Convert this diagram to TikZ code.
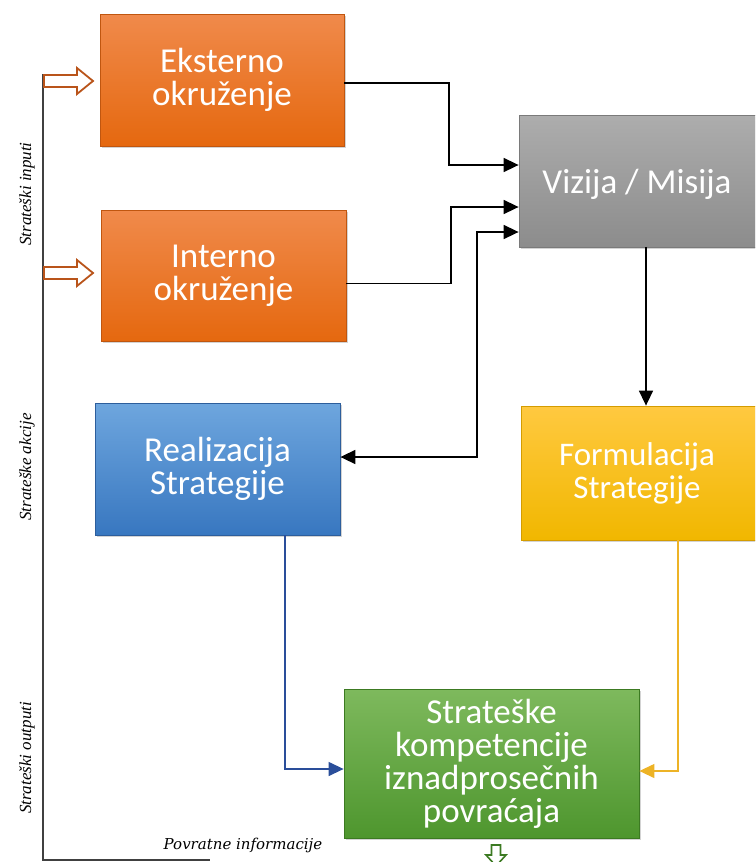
\documentclass[tikz,border=0pt]{standalone}
\usepackage{fontspec}
\setmainfont{Carlito}
\newfontfamily\sidefont{Liberation Serif}
\newfontfamily\fbfont{DejaVu Serif}
\usetikzlibrary{arrows.meta,shadows}

\definecolor{orTop}{HTML}{F08A4B}
\definecolor{orBot}{HTML}{E5680F}
\definecolor{orLine}{HTML}{C0560F}
\definecolor{gyTop}{HTML}{ADADAD}
\definecolor{gyBot}{HTML}{8C8C8C}
\definecolor{gyLine}{HTML}{7A7A7A}
\definecolor{blTop}{HTML}{6EA6DE}
\definecolor{blBot}{HTML}{3877C0}
\definecolor{blLine}{HTML}{2D5E9C}
\definecolor{yeTop}{HTML}{FFC940}
\definecolor{yeBot}{HTML}{F1B700}
\definecolor{yeLine}{HTML}{D49C00}
\definecolor{grTop}{HTML}{7EB95D}
\definecolor{grBot}{HTML}{4E962E}
\definecolor{grLine}{HTML}{3C7A22}
\definecolor{inArrow}{HTML}{B9541A}
\definecolor{bluConn}{HTML}{2A4E9A}
\definecolor{goldConn}{HTML}{EDB326}
\definecolor{frame}{HTML}{404040}

\tikzset{
  box/.style={rectangle, inner sep=0pt, line width=0.8pt, align=center,
    text=white, font=\fontsize{35}{33}\selectfont,
    drop shadow={shadow xshift=2pt, shadow yshift=-2pt, opacity=0.35}},
  orangebox/.style={box, draw=orLine, top color=orTop, bottom color=orBot},
  greybox/.style={box, draw=gyLine, top color=gyTop, bottom color=gyBot},
  bluebox/.style={box, draw=blLine, top color=blTop, bottom color=blBot},
  yellowbox/.style={box, draw=yeLine, top color=yeTop, bottom color=yeBot},
  greenbox/.style={box, draw=grLine, top color=grTop, bottom color=grBot},
  conn/.style={line width=1.6pt, draw=black,
    -{Triangle[length=15pt,width=14pt]}},
  dconn/.style={conn, {Triangle[length=15pt,width=14pt]}-{Triangle[length=15pt,width=14pt]}},
  sidelabel/.style={rotate=90, font=\sidefont\itshape\fontsize{17}{17}\selectfont},
  % hollow block arrow pointing right, tail at the pic origin
  pics/hollowright/.style={code={
    \draw[draw=inArrow, fill=white, line width=1.8pt, line join=miter]
      (0,-6) -- (33,-6) -- (33,-13) -- (49,0) -- (33,13) -- (33,6) -- (0,6) -- cycle;}},
  % hollow block arrow pointing down, tail at the pic origin
  pics/hollowdown/.style={code={
    \draw[draw=grLine, fill=white, line width=1.6pt, line join=miter]
      (-4.5,0) -- (-4.5,10) -- (-10,10) -- (0,21) -- (10,10) -- (4.5,10) -- (4.5,0) -- cycle;}},
}

\begin{document}
\begin{tikzpicture}[x=1pt, y=-1pt]
\useasboundingbox (0,0) rectangle (755,862);
\clip (0,0) rectangle (755,862);

% process boxes
\node[orangebox, minimum width=244pt, minimum height=132pt] (ek) at (222,80) {Eksterno\\okruženje};
\node[orangebox, minimum width=245pt, minimum height=131pt] (in) at (223.5,275.5) {Interno\\okruženje};
\node[greybox, minimum width=240pt, minimum height=132pt, text depth=0pt] (vm) at (639,181) {\hspace*{-4pt}Vizija / Misija};
\node[bluebox, minimum width=245pt, minimum height=132pt] (re) at (217.5,469) {Realizacija\\Strategije};
\node[yellowbox, font=\fontsize{33}{33}\selectfont, minimum width=238pt, minimum height=134pt] (fo) at (640,473) {\hspace*{-6pt}Formulacija\\\hspace*{-6pt}Strategije};
\node[greenbox, minimum width=295pt, minimum height=149pt] (gr) at (491.5,763.5) {Strateške\\kompetencije\\iznadprosečnih\\povraćaja};

% connectors between boxes
\draw[conn] ([yshift=-3pt]ek.east) -| (449,165) -- (vm.west |- 0,165);
\draw[conn] ([yshift=-8pt]in.east) -| (451,207) -- (vm.west |- 0,207);
\draw[dconn] (re.east |- 0,457) -| (477,232) -- (vm.west |- 0,232);
\draw[conn] (vm.south -| 646,0) -- (fo.north -| 646,0);
\draw[conn, draw=bluConn, line width=1.3pt] (re.south -| 285,0) |- (gr.west |- 0,769);
\draw[conn, draw=goldConn, line width=1.3pt] (fo.south -| 678,0) |- (gr.east |- 0,771);

% strategic frame on the left
\coordinate (ftop) at (43,74);
\coordinate (fcorner) at (43,860);
\coordinate (fend) at (210,860);
\draw[frame, line width=1.6pt] (ftop) -- (fcorner) -- (fend);

% strategic inputs and output
\pic (ain1) at (44,81) {hollowright};
\pic (ain2) at (44,273) {hollowright};
\pic (aout) at (496,845) {hollowdown};

% side labels
\node[sidelabel] (lin) at (27,194) {Strateški inputi};
\node[sidelabel] (lak) at (27,467) {Strateške akcije};
\node[sidelabel] (lou) at (27,758) {Strateški outputi};
\node[font=\fbfont\itshape\fontsize{15}{15}\selectfont] (lfb) at (243,845) {Povratne informacije};
\end{tikzpicture}
\end{document}
